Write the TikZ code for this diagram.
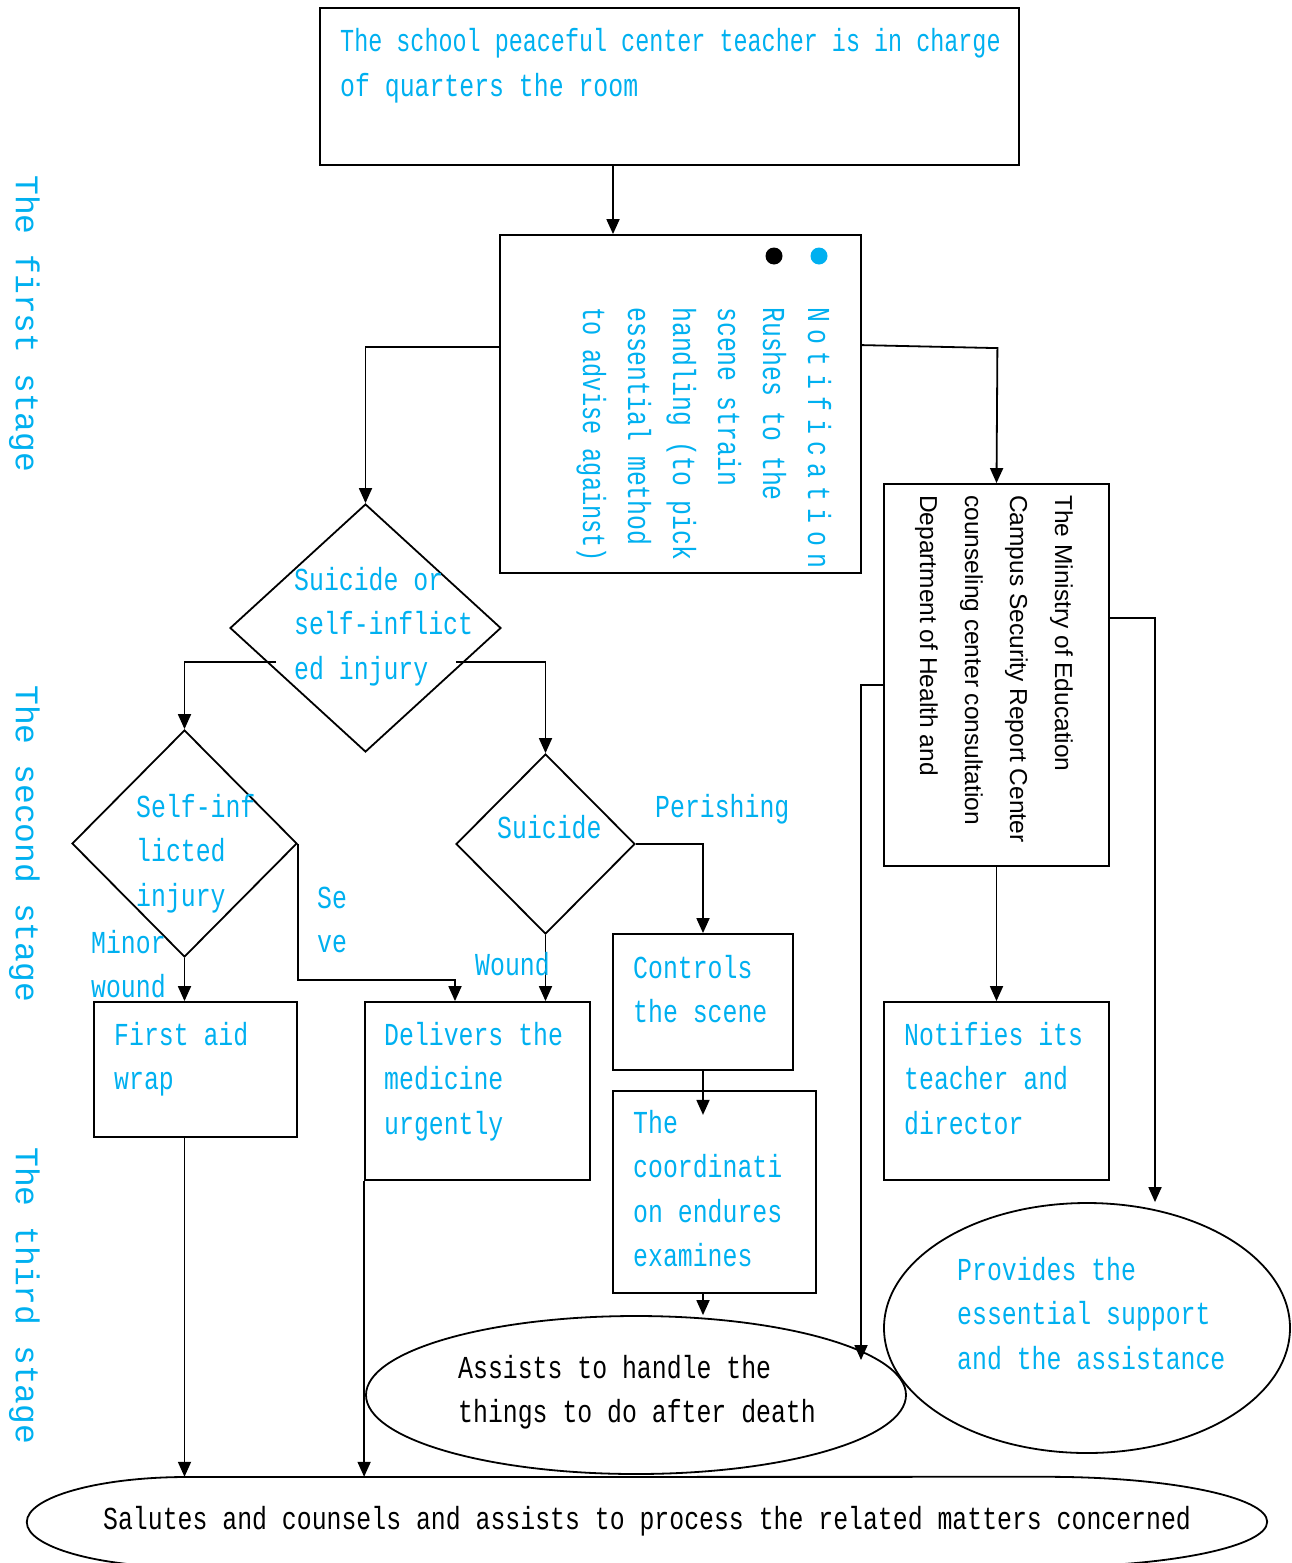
\documentclass[tikz,border=0pt]{standalone}
\usepackage{fontspec}
\usetikzlibrary{shapes.geometric,arrows.meta,calc}
\newfontfamily\cnfont[FakeStretch=0.776]{Liberation Mono}
\newfontfamily\stagefont{Liberation Mono}
\newfontfamily\blkfont{Liberation Sans}
\definecolor{cy}{RGB}{0,176,240}
\newcommand\mlines[2][44.5pt]{\vtop{\baselineskip=#1\lineskiplimit=-100pt\halign{##\hfil\cr#2\crcr}}}
\begin{document}
\begin{tikzpicture}[x=1pt,y=-1pt,
  ln/.style={line width=1.8pt},
  arr/.style={line width=1.8pt,-{Triangle[length=15pt,width=13pt]}},
  box/.style={draw,line width=1.8pt,inner sep=0pt,minimum width=#1},
  dia/.style={draw,line width=1.8pt,diamond,inner sep=0pt},
  ell/.style={draw,line width=1.8pt,ellipse,inner sep=0pt},
  txt/.style={inner sep=0pt,anchor=base west,text=cy,font=\cnfont\fontsize{32}{44.5}\selectfont},
  btxt/.style={txt,text=black},
  stage/.style={inner sep=0pt,anchor=base west,text=cy,rotate=-90,font=\stagefont\fontsize{33}{33}\selectfont}]
\useasboundingbox (0,0) rectangle (1291,1563);

% shapes
\node[box=699pt,minimum height=157pt] (top) at (669.5,86.5) {};
\node[box=361pt,minimum height=338pt] (notif) at (680.5,404) {};
\node[box=225pt,minimum height=382pt] (rbox) at (996.5,675) {};
\node[dia,minimum width=271pt,minimum height=248pt] (d1) at (365.5,628) {};
\node[dia,minimum width=225pt,minimum height=227pt] (d2) at (184.5,843.5) {};
\node[dia,minimum width=179pt,minimum height=180pt] (sd) at (545.5,844) {};
\node[box=203pt,minimum height=135pt] (fa) at (195.5,1069.5) {};
\node[box=225pt,minimum height=178pt] (dl) at (477.5,1091) {};
\node[box=180pt,minimum height=136pt] (ctrl) at (703,1002) {};
\node[box=203pt,minimum height=202pt] (coord) at (714.5,1192) {};
\node[box=225pt,minimum height=178pt] (nt) at (996.5,1091) {};
\node[ell,minimum width=540pt,minimum height=158pt] (as) at (636,1395) {};
\node[ell,minimum width=406pt,minimum height=250pt] (pv) at (1087,1328) {};
\node[inner sep=0pt,minimum width=1240pt,minimum height=90pt] (sal) at (647,1522) {};
\draw[ln] (sal.west) arc[start angle=180,end angle=90,x radius=160pt,y radius=45pt]
  -- ([xshift=-220pt]sal.north east) arc[start angle=90,end angle=-90,x radius=220pt,y radius=45pt]
  -- ([xshift=160pt]sal.south west) arc[start angle=270,end angle=180,x radius=160pt,y radius=45pt] -- cycle;
\node[circle,fill=black,minimum size=17pt,inner sep=0pt] (dotk) at (774,256) {};
\node[circle,fill=cy,minimum size=17pt,inner sep=0pt] (dotc) at (819,256) {};

% connectors
\draw[arr] ([xshift=-56.5pt]top.south) -- ([xshift=-56.5pt]top.south |- notif.north);
\draw[arr] ($(notif.north west)+(0,113)$) -| (d1.north);
\draw[arr] ($(notif.north east)+(0,111)$) -- ++(135.5,3) -- (rbox.north);
\draw[arr] ($(d1.center)+(-89.5,34)$) -| (d2.north);
\draw[arr] ($(d1.center)+(90.5,34)$) -| (sd.north);
\draw[arr] (d2.south) -- (d2.south |- fa.north);
\draw[arr] (d2.east) -- ++(0,136.5) -| ([xshift=-22.5pt]dl.north);
\draw[arr] (sd.south) -- (sd.south |- dl.north);
\draw[arr] (sd.east) -| (ctrl.north);
\draw[arr] (ctrl.south) -- ++(0,44);
\draw[arr] (ctrl.south |- coord.south) -- (ctrl.south |- as.north);
\draw[arr] (rbox.south) -- (nt.north);
\draw[arr] ($(rbox.north east)+(0,135)$) -| ([xshift=68pt]pv.north);
\draw[arr] ($(rbox.north west)+(0,202)$) -| ([shift={(225,-35)}]as.center);
\draw[arr] ([xshift=-11pt]fa.south) -- ([xshift=-11pt]fa.south |- sal.north);
\draw[arr] (dl.south west) -- (dl.south west |- sal.north);

% texts
\node[txt] (ttop) at (340,52) {\mlines{\scalebox{0.943}[1]{The school peaceful center teacher is in charge}\cr of quarters the room}};
\node[txt,rotate=-90] (tnotif) at (808,307) {\mlines[45pt]{N\kern7.5pt o\kern7.5pt t\kern7.5pt i\kern7.5pt f\kern7.5pt i\kern7.5pt c\kern7.5pt a\kern7.5pt t\kern7.5pt i\kern7.5pt o\kern7.5pt n\cr Rushes to the\cr scene strain\cr handling (to pick\cr essential method\cr \scalebox{0.95}[1]{to advise against)}}};
\node[inner sep=0pt,anchor=base west,rotate=-90,font=\blkfont\fontsize{24.5}{45}\selectfont] (trbox) at (1055,495) {\mlines[45pt]{The Ministry of Education\cr Campus Security Report Center\cr counseling center consultation\cr Department of Health and}};
\node[txt] (td1) at (294,590) {\mlines{Suicide or\cr self-inflict\cr ed injury}};
\node[txt] (td2) at (136,817) {\mlines{Self-inf\cr licted\cr injury}};
\node[txt] (tsd) at (497,838) {Suicide};
\node[txt] (lminor) at (91,953) {\mlines{Minor\cr wound}};
\node[txt] (lsev) at (317,908) {\mlines{Se\cr ve}};
\node[txt] (lwound) at (475,975) {Wound};
\node[txt] (lper) at (655,817) {Perishing};
\node[txt] (tfa) at (114,1045) {\mlines{First aid\cr wrap}};
\node[txt] (tdl) at (384,1045) {\mlines{Delivers the\cr medicine\cr urgently}};
\node[txt] (tctrl) at (633,978) {\mlines{Controls\cr the scene}};
\node[txt] (tcoord) at (633,1133) {\mlines{The\cr coordinati\cr on endures\cr examines}};
\node[txt] (tnt) at (904,1045) {\mlines{Notifies its\cr teacher and\cr director}};
\node[btxt] (tas) at (458,1378) {\mlines{Assists to handle the\cr things to do after death}};
\node[txt] (tpv) at (957,1280) {\mlines{Provides the\cr essential support\cr and the assistance}};
\node[btxt] (tsal) at (103,1529) {Salutes and counsels and assists to process the related matters concerned};
\node[stage] (s1) at (16,175) {The first stage};
\node[stage] (s2) at (16,685) {The second stage};
\node[stage] (s3) at (16,1147) {The third stage};
\end{tikzpicture}
\end{document}
